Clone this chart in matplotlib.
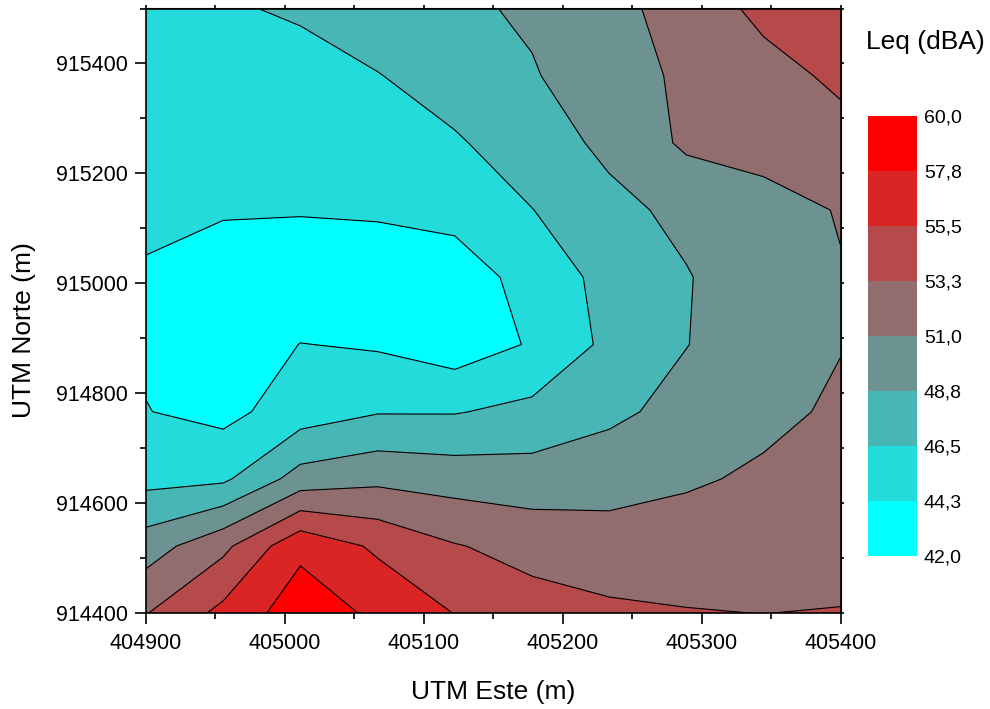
import numpy as np
import matplotlib
matplotlib.use("Agg")
import matplotlib.pyplot as plt
from matplotlib.colors import ListedColormap, BoundaryNorm
from matplotlib.ticker import MultipleLocator

plt.rcParams['font.family'] = ['Liberation Sans', 'DejaVu Sans']

# grid of measuring points (UTM)
utm_este = [404900, 404955.6, 405011.1, 405066.7, 405122.2,
            405177.8, 405233.3, 405288.9, 405344.4, 405400]
utm_norte = [914400, 914522.2, 914644.4, 914766.7, 914888.9,
             915011.1, 915133.3, 915255.6, 915377.8, 915500]

# Leq (dBA), one row per northing (south -> north)
leq = [
    [53.16, 56.14, 59.00, 57.33, 55.45, 54.20, 53.67, 53.28, 53.245, 53.30],
    [49.90, 52.70, 57.23, 55.10, 53.39, 52.48, 51.94, 52.94, 52.50, 52.80],
    [45.80, 46.10, 49.69, 50.46, 50.03, 49.78, 50.15, 50.50, 51.60, 52.20],
    [44.31, 43.60, 45.37, 46.36, 46.37, 47.08, 48.25, 49.50, 50.06, 51.57],
    [43.96, 42.50, 44.30, 44.00, 43.00, 44.45, 47.03, 48.70, 50.00, 50.87],
    [43.70, 42.30, 42.20, 42.50, 43.30, 44.92, 47.30, 48.65, 49.77, 50.88],
    [45.36, 44.60, 44.47, 44.62, 44.84, 46.45, 48.28, 49.17, 50.11, 51.14],
    [45.30, 45.00, 44.60, 45.60, 46.20, 47.90, 49.14, 51.40, 51.90, 52.58],
    [45.20, 45.50, 45.47, 46.40, 47.76, 48.61, 49.80, 51.50, 52.56, 53.63],
    [45.40, 46.20, 46.86, 48.07, 48.40, 49.02, 50.20, 52.10, 53.75, 54.60],
]

niveis = [42.0, 44.25, 46.5, 48.75, 51.0, 53.25, 55.5, 57.75, 60.0]
rotulos = ["42,0", "44,3", "46,5", "48,8", "51,0", "53,3", "55,5", "57,8", "60,0"]
cores = ["#00ffff", "#24dbdb", "#49b6b6", "#6d9292", "#926d6d",
         "#b64949", "#db2424", "#ff0000"]

X, Y = np.meshgrid(utm_este, utm_norte)
Z = np.array(leq)

cmap = ListedColormap(cores)
norm = BoundaryNorm(niveis, cmap.N)

fig = plt.figure(figsize=(9.9, 7.09), dpi=100)
ax = fig.add_axes([146 / 990, 1 - 613.3 / 709, 694.8 / 990, 604.8 / 709])

cf = ax.contourf(X, Y, Z, levels=niveis, cmap=cmap, norm=norm)
ax.contour(X, Y, Z, levels=niveis[1:-1], colors='k', linewidths=0.8)

ax.set_xlim(404900, 405400)
ax.set_ylim(914400, 915500)
ax.xaxis.set_major_locator(MultipleLocator(100))
ax.xaxis.set_minor_locator(MultipleLocator(50))
ax.yaxis.set_major_locator(MultipleLocator(200))
ax.yaxis.set_minor_locator(MultipleLocator(100))
ax.ticklabel_format(useOffset=False, style='plain')

for s in ax.spines.values():
    s.set_linewidth(1.2)
ax.tick_params(which='major', direction='out', length=8, width=1.2,
               labelsize=15.5, pad=5)
ax.tick_params(which='minor', direction='out', length=4.5, width=1.2)
ax.tick_params(which='major', axis='x', pad=6)

# tiny ticks on top/right, no labels
top = ax.secondary_xaxis('top')
top.xaxis.set_major_locator(MultipleLocator(50))
top.tick_params(direction='out', length=2.5, width=1.2, labeltop=False)
rgt = ax.secondary_yaxis('right')
rgt.yaxis.set_major_locator(MultipleLocator(100))
rgt.tick_params(direction='out', length=2.5, width=1.2, labelright=False)

ax.set_xlabel("UTM Este (m)", fontsize=19)
ax.set_ylabel("UTM Norte (m)", fontsize=19)
ax.xaxis.set_label_coords(0.5, -0.11)
ax.yaxis.set_label_coords(-0.158, 0.468)

cax = fig.add_axes([868 / 990, 1 - 556 / 709, 49 / 990, 440 / 709])
cb = fig.colorbar(cf, cax=cax, ticks=niveis)
cb.outline.set_visible(False)
cb.ax.set_yticklabels(rotulos)
cb.ax.tick_params(length=0, labelsize=14, pad=5)
fig.text(866 / 990, 1 - 42 / 709, "Leq (dBA)", fontsize=19, va='center', ha='left')

fig.savefig("out.png", dpi=100)
